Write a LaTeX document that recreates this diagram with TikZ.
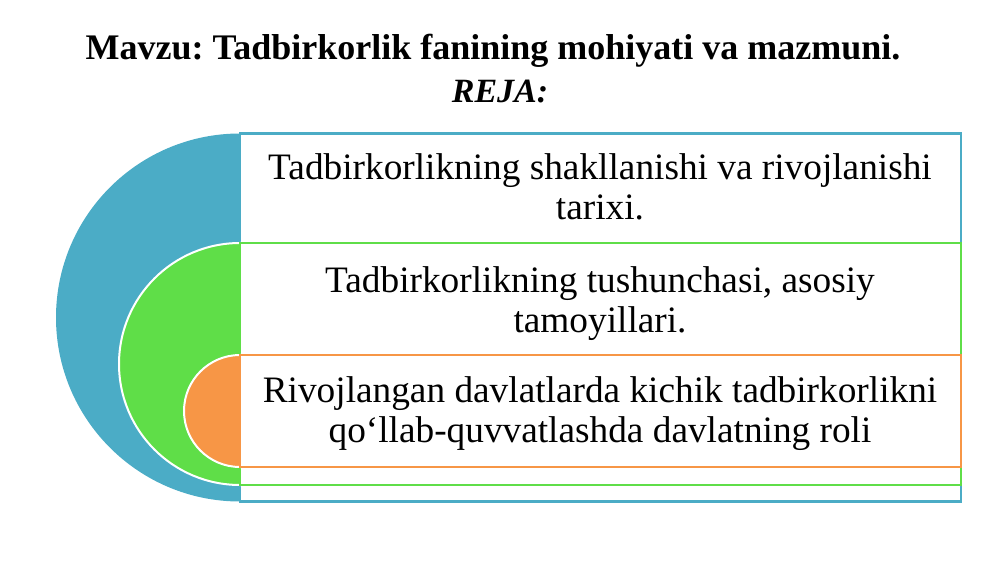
\documentclass[tikz,border=0pt]{standalone}
\usepackage{fontspec}
\setmainfont{Liberation Serif}
\usetikzlibrary{positioning}
\definecolor{rejablue}{HTML}{4BACC6}
\definecolor{rejagreen}{HTML}{5FDE48}
\definecolor{rejaorange}{HTML}{F79646}
\frenchspacing
\begin{document}
\begin{tikzpicture}[x=1pt, y=1pt,
    box/.style={fill=white, line width=2.5pt},
    half/.style={draw=white, line width=2pt},
    item/.style={anchor=base, align=center, inner sep=0pt, font=\fontsize{37.3}{40}\selectfont}]
    \useasboundingbox (0,0) rectangle (1000,563);
    % title
    \node[anchor=base, inner sep=0pt, font=\bfseries\fontsize{36}{40}\selectfont] (title) at (493,503) {Mavzu: Tadbirkorlik fanining mohiyati va mazmuni.};
    \node[anchor=base, inner sep=0pt, font=\bfseries\itshape\fontsize{34}{40}\selectfont] (reja) at (500,460) {REJA:};
    % outer level
    \fill[rejablue] (240,429.5) arc[start angle=90, end angle=270, radius=184] -- cycle;
    \draw[box, draw=rejablue] (240,61.5) rectangle (961,429.5);
    % middle level
    \fill[rejagreen, half] (240,320) arc[start angle=90, end angle=270, radius=121] -- cycle;
    \draw[box, draw=rejagreen] (240,78) rectangle (961,320);
    % inner level
    \fill[rejaorange, half] (240,208) arc[start angle=90, end angle=270, radius=56] -- cycle;
    \draw[box, draw=rejaorange] (240,96) rectangle (961,208);
    % texts
    \node[item] (first) at (600,343) {Tadbirkorlikning shakllanishi va rivojlanishi\\tarixi.};
    \node[item] (second) at (600,231) {Tadbirkorlikning tushunchasi, asosiy\\tamoyillari.};
    \node[item] (third) at (600,121) {Rivojlangan davlatlarda kichik tadbirkorlikni\\qo‘llab-quvvatlashda davlatning roli};
\end{tikzpicture}
\end{document}
